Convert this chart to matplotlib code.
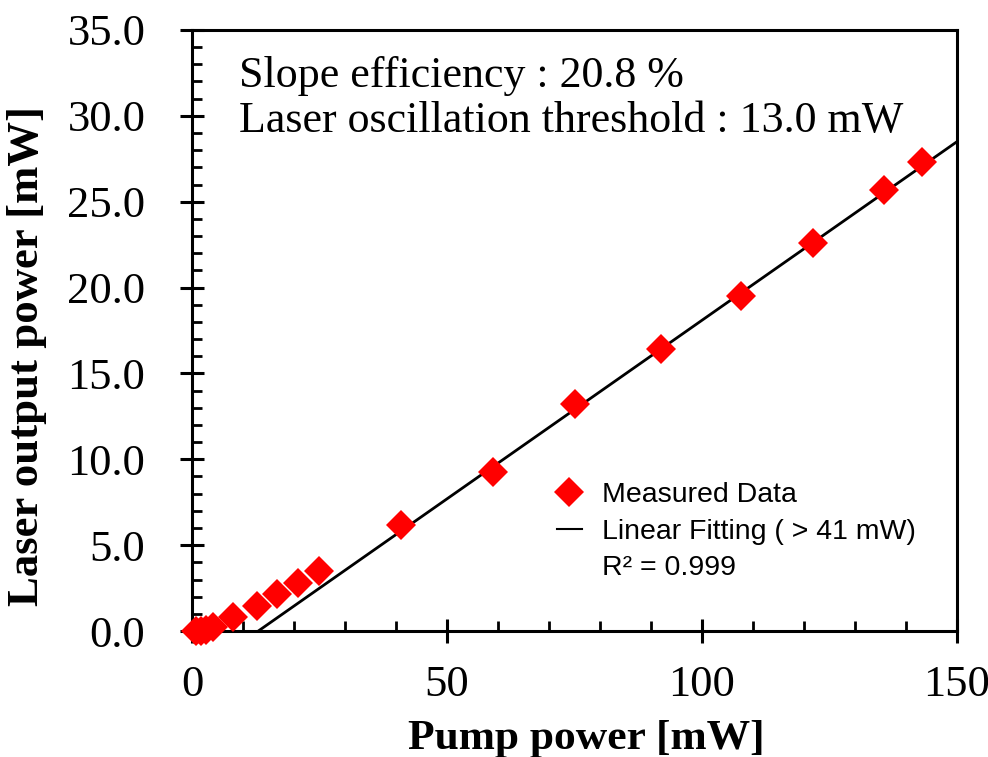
import matplotlib
matplotlib.use("Agg")
import matplotlib.pyplot as plt
from matplotlib.lines import Line2D
from matplotlib.ticker import MultipleLocator, FormatStrFormatter
import numpy as np

# Measured pump power vs. laser output power
pump_mw = [0.7, 1.8, 2.8, 4.2, 8.0, 12.7, 16.7, 20.8, 24.9,
           41.0, 59.0, 75.2, 92.0, 107.7, 121.8, 135.7, 143.2]
output_mw = [0.0, 0.0, 0.05, 0.25, 0.8, 1.45, 2.15, 2.8, 3.5,
             6.2, 9.25, 13.2, 16.4, 19.5, 22.6, 25.7, 27.3]

# Linear fit parameters (fit over pump > 41 mW)
slope_eff = 0.208
threshold_mw = 13.0
r_squared = 0.999

serif = ["Liberation Serif", "DejaVu Serif"]
sans = ["Liberation Sans", "DejaVu Sans"]

fig = plt.figure(figsize=(9.88, 7.57), dpi=100)
ax = fig.add_axes([0.1943, 0.1664, 0.7743, 0.794])

fit_x = np.array([threshold_mw, 150.0])
fit_y = slope_eff * (fit_x - threshold_mw)
ax.plot(fit_x, fit_y, color="black", lw=2.0, zorder=2)
ax.plot(pump_mw, output_mw, linestyle="none", marker="D", ms=15.5,
        color="#ff0000", markeredgewidth=0, zorder=3, clip_on=False)

ax.set_xlim(0, 150)
ax.set_ylim(0, 35)
ax.xaxis.set_major_locator(MultipleLocator(50))
ax.xaxis.set_minor_locator(MultipleLocator(10))
ax.yaxis.set_major_locator(MultipleLocator(5))
ax.yaxis.set_minor_locator(MultipleLocator(1))
ax.yaxis.set_major_formatter(FormatStrFormatter("%.1f"))

for s in ax.spines.values():
    s.set_linewidth(2.2)
ax.tick_params(which="major", direction="inout", length=17, width=2.2,
               labelsize=32)
ax.tick_params(axis="x", which="major", pad=16)
ax.tick_params(axis="y", which="major", pad=25)
ax.tick_params(which="minor", direction="in", length=7, width=2.0)
ax.tick_params(top=False, right=False, which="both")
for lab in ax.get_xticklabels() + ax.get_yticklabels():
    lab.set_family(serif)

ax.set_xlabel("Pump power [mW]", fontsize=31.3, fontweight="bold",
              family=serif)
ax.set_ylabel("Laser output power [mW]", fontsize=32.2, fontweight="bold",
              family=serif)
ax.xaxis.set_label_coords(0.515, -0.148)
ax.yaxis.set_label_coords(-0.19, 0.457)

ax.text(0.062, 0.905, f"Slope efficiency : {slope_eff*100:.1f} %",
        transform=ax.transAxes, fontsize=31.7, family=serif, va="baseline")
ax.text(0.062, 0.83, f"Laser oscillation threshold : {threshold_mw:.1f} mW",
        transform=ax.transAxes, fontsize=31.7, family=serif, va="baseline")

handles = [
    Line2D([], [], linestyle="none", marker="D", ms=15, color="#ff0000",
           markeredgewidth=0),
    Line2D([], [], color="black", lw=1.5),
    Line2D([], [], linestyle="none"),
]
labels = ["Measured Data", "Linear Fitting ( > 41 mW)",
          f"R\u00b2 = {r_squared:.3f}"]
ax.legend(handles, labels, loc="upper left", bbox_to_anchor=(0.458, 0.272),
          frameon=False, prop={"family": sans, "size": 20.5},
          handlelength=0.88, handletextpad=0.7, labelspacing=0.38,
          borderpad=0)

fig.savefig("out.png", dpi=100)
